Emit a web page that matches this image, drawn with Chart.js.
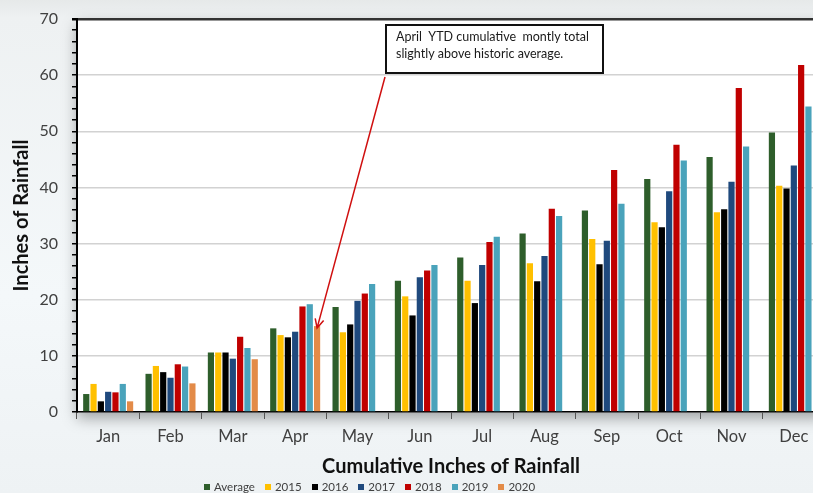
<!DOCTYPE html>
<html>
<head>
<meta charset="utf-8">
<script src="https://cdn.jsdelivr.net/npm/chart.js@4/dist/chart.umd.min.js"></script>
<style>
  html, body { margin: 0; padding: 0; width: 813px; height: 493px; overflow: hidden; }
  body { background: linear-gradient(to bottom, #e6e9e9 0px, #eef1f2 18px, #f4f8fa 60%, #eef2f4 100%); position: relative; font-family: Lato, "Open Sans", sans-serif; }
  #wrap { position: absolute; left: 0; top: 0; width: 830px; height: 493px; }
  #legend { position: absolute; left: 204px; top: 480px; display: flex; font-size: 11.5px; color: #404040; line-height: 13px; }
  #legend span.item { display: flex; align-items: center; margin-right: 10px; }
  #legend span.box { width: 6px; height: 6px; margin-right: 4px; display: inline-block; }
</style>
</head>
<body>
<div id="wrap"><canvas id="rain" width="830" height="493"></canvas></div>
<div id="legend"></div>
<script>
// cumulative monthly rainfall (inches)
const months = ['Jan', 'Feb', 'Mar', 'Apr', 'May', 'Jun', 'Jul', 'Aug', 'Sep', 'Oct', 'Nov', 'Dec'];
const seriesNames = ['Average', '2015', '2016', '2017', '2018', '2019', '2020'];
const seriesColors = ['#2e5e2b', '#ffc000', '#000000', '#1f497d', '#c00000', '#4aa3bb', '#e38b48'];

const average = [3.2, 6.8, 10.6, 14.9, 18.7, 23.4, 27.5, 31.8, 35.9, 41.5, 45.4, 49.8];
const y2015 = [5.0, 8.2, 10.6, 13.7, 14.2, 20.6, 23.4, 26.5, 30.8, 33.8, 35.6, 40.3];
const y2016 = [1.9, 7.1, 10.6, 13.3, 15.6, 17.2, 19.4, 23.3, 26.3, 32.9, 36.1, 39.8];
const y2017 = [3.6, 6.1, 9.5, 14.3, 19.8, 24.0, 26.2, 27.8, 30.5, 39.3, 41.0, 43.9];
const y2018 = [3.5, 8.5, 13.4, 18.8, 21.1, 25.2, 30.3, 36.2, 43.1, 47.6, 57.7, 61.8];
const y2019 = [5.0, 8.1, 11.4, 19.2, 22.8, 26.2, 31.2, 34.9, 37.1, 44.8, 47.3, 54.4];
const y2020 = [1.9, 5.1, 9.4, 15.3, null, null, null, null, null, null, null, null];

const yMin = 0, yMax = 70, yStep = 2, yLabelStep = 10;
const noteLines = ['April  YTD cumulative  montly total', 'slightly above historic average.'];

const allSeries = [average, y2015, y2016, y2017, y2018, y2019, y2020];

const plotShadow = {
  id: 'plotShadow',
  beforeDraw(chart) {
    const { ctx, chartArea: a } = chart;
    ctx.save();
    ctx.shadowColor = 'rgba(0,0,0,0.35)';
    ctx.shadowBlur = 14;
    ctx.shadowOffsetY = 6;
    ctx.fillStyle = '#ffffff';
    ctx.fillRect(a.left, a.top, a.right - a.left, a.bottom - a.top);
    ctx.restore();
  }
};

const callout = {
  id: 'callout',
  afterDraw(chart) {
    const ctx = chart.ctx;
    const bar = chart.getDatasetMeta(6).data[3];
    const bx = 386, by = 25, bw = 217, bh = 48;
    ctx.save();
    // arrow
    const sx = 385, sy = 77, tx = bar.x, ty = bar.y + 2;
    ctx.strokeStyle = '#d01010';
    ctx.lineWidth = 1.5;
    ctx.beginPath();
    ctx.moveTo(sx, sy);
    ctx.lineTo(tx, ty);
    const ang = Math.atan2(ty - sy, tx - sx);
    ctx.moveTo(tx - 10 * Math.cos(ang - 0.45), ty - 10 * Math.sin(ang - 0.45));
    ctx.lineTo(tx, ty);
    ctx.lineTo(tx - 10 * Math.cos(ang + 0.45), ty - 10 * Math.sin(ang + 0.45));
    ctx.stroke();
    // box
    ctx.fillStyle = '#ffffff';
    ctx.fillRect(bx, by, bw, bh);
    ctx.strokeStyle = '#111';
    ctx.lineWidth = 2;
    ctx.strokeRect(bx, by, bw, bh);
    ctx.fillStyle = '#1a1a1a';
    ctx.font = '12.5px Lato, "Open Sans", sans-serif';
    ctx.textBaseline = 'alphabetic';
    ctx.fillText(noteLines[0], bx + 10, by + 16);
    ctx.fillText(noteLines[1], bx + 10, by + 33);
    ctx.restore();
  }
};

const chart = new Chart(document.getElementById('rain'), {
  type: 'bar',
  data: {
    labels: months,
    datasets: seriesNames.map((name, i) => ({
      label: name,
      data: allSeries[i],
      backgroundColor: seriesColors[i],
      borderWidth: 0,
      barPercentage: 0.85,
      categoryPercentage: 0.82
    }))
  },
  options: {
    responsive: false,
    animation: false,
    devicePixelRatio: 1,
    layout: { padding: { top: 19, right: 5, left: 0, bottom: 0 } },
    plugins: {
      legend: { display: false },
      tooltip: { enabled: false }
    },
    scales: {
      x: {
        afterFit(scale) { scale.height = 81; },
        border: { color: '#000', width: 1.5 },
        grid: { offset: true, drawOnChartArea: false, tickLength: 7, tickColor: '#555' },
        ticks: { color: '#404040', padding: 8, font: { family: 'Lato', size: 16.5 } },
        title: {
          display: true,
          text: 'Cumulative Inches of Rainfall',
          color: '#111',
          font: { family: 'Lato', size: 20, weight: 'bold' },
          padding: { top: 0, bottom: 14 }
        }
      },
      y: {
        min: yMin,
        max: yMax,
        afterFit(scale) {
          scale.width = 77;
          scale.paddingTop = 0;
          scale.paddingBottom = 0;
        },
        border: { color: '#000', width: 2 },
        grid: {
          color: c => c.tick.value === yMax ? '#333' : (c.tick.value % yLabelStep === 0 ? '#d2d2d2' : 'rgba(0,0,0,0)'),
          lineWidth: c => c.tick.value === yMax ? 2.5 : 1.5,
          tickColor: '#000',
          tickLength: 5
        },
        ticks: {
          stepSize: yStep,
          color: '#404040',
          padding: 14,
          autoSkip: false,
          font: { family: 'Lato', size: 16 },
          callback: v => (v % yLabelStep === 0 ? v : '')
        },
        title: {
          display: true,
          text: 'Inches of Rainfall',
          color: '#111',
          font: { family: 'Lato', size: 20, weight: 'bold' },
          padding: { top: 10, bottom: 0 }
        }
      }
    }
  },
  plugins: [plotShadow, callout]
});

const legend = document.getElementById('legend');
chart.data.datasets.forEach(ds => {
  const item = document.createElement('span');
  item.className = 'item';
  const box = document.createElement('span');
  box.className = 'box';
  box.style.background = ds.backgroundColor;
  item.appendChild(box);
  item.appendChild(document.createTextNode(ds.label));
  legend.appendChild(item);
});
</script>
</body>
</html>
